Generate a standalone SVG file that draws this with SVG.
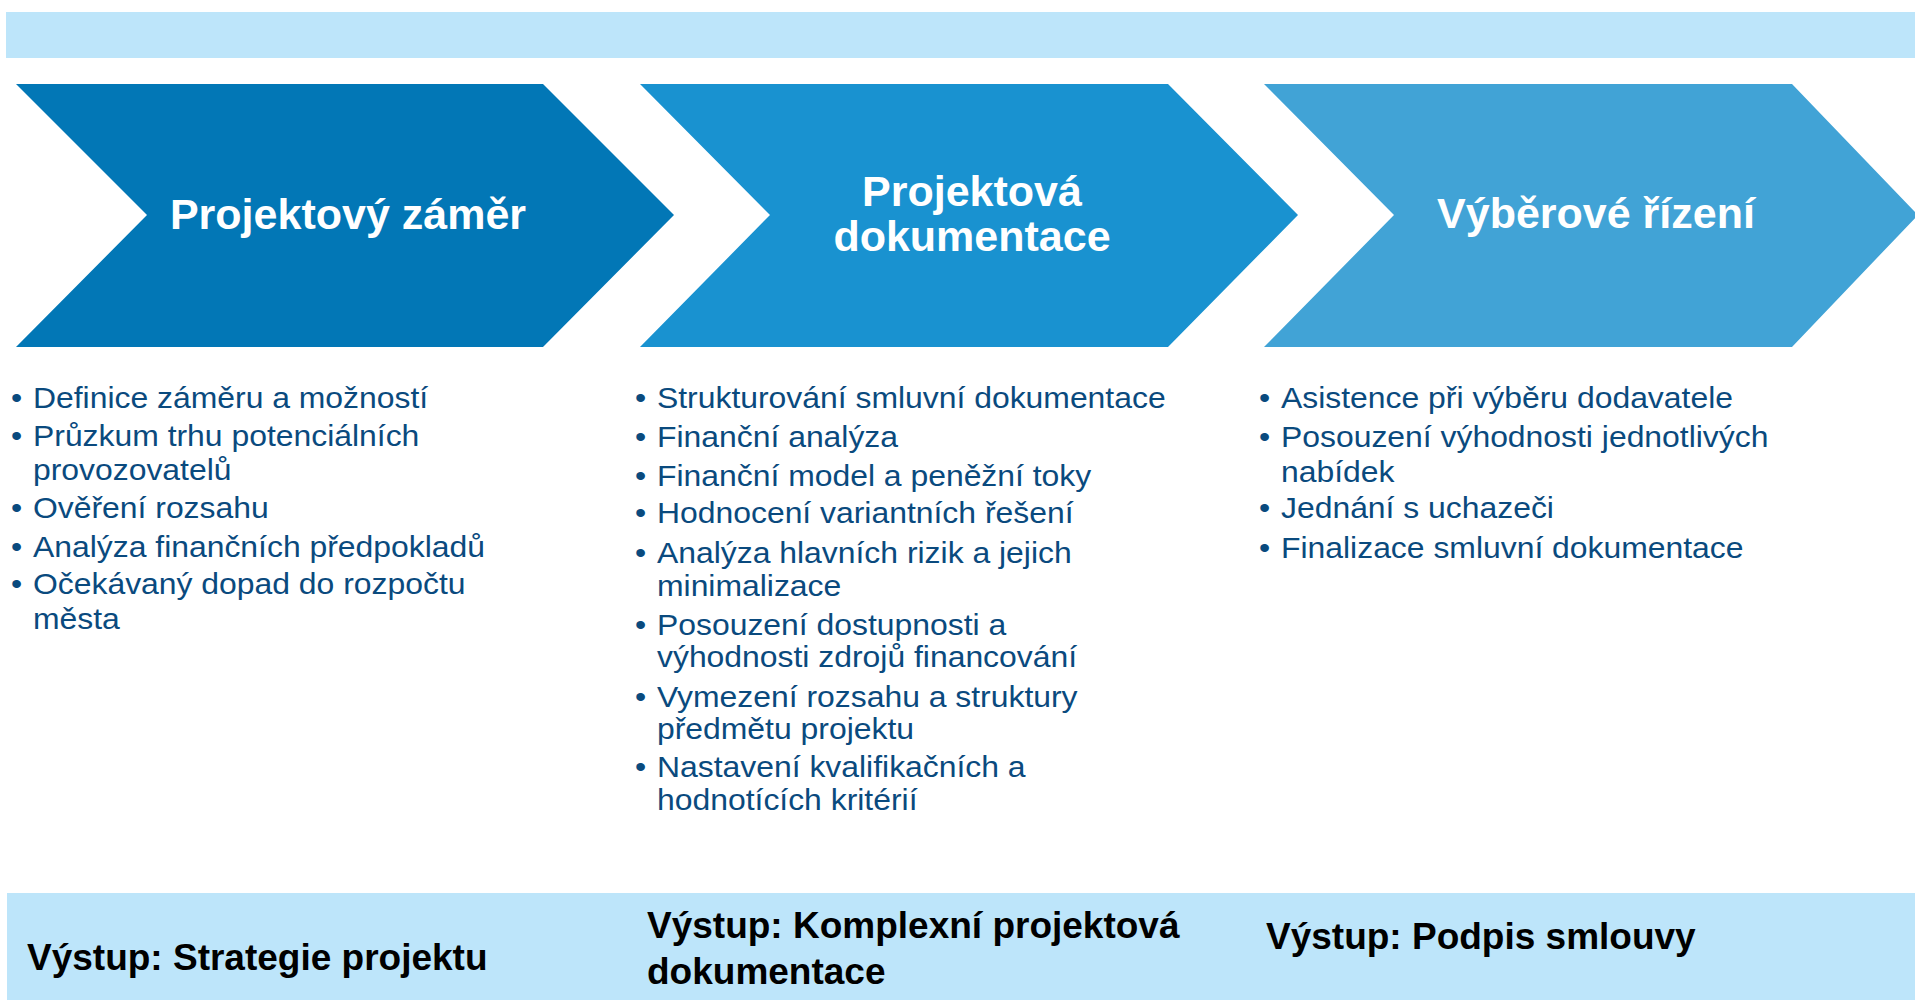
<svg xmlns="http://www.w3.org/2000/svg" width="1915" height="1000" viewBox="0 0 1915 1000">
<style>
.band{fill:#BDE5FA}
.title{font-family:"Liberation Sans",Arial,sans-serif;font-weight:bold;font-size:43px;fill:#FFFFFF;text-anchor:middle}
.item{font-family:"Liberation Sans",Arial,sans-serif;font-size:29px;fill:#0A4A7E}
.out{font-family:"Liberation Sans",Arial,sans-serif;font-weight:bold;font-size:37px;fill:#000000}
</style>
<rect width="1915" height="1000" fill="#FFFFFF"/>
<rect id="top-band" class="band" x="6" y="12" width="1909" height="46"/>

<g id="phase1">
<polygon points="16,84 543,84 674,215 543,347 16,347 147,215" fill="#0277B6"/>
<text class="title" x="348" y="229">Projektový záměr</text>
</g>
<g id="phase2">
<polygon points="640,84 1168,84 1298,215 1168,347 640,347 770,215" fill="#1992D0"/>
<text class="title" x="972" y="206">Projektová</text>
<text class="title" x="972" y="251">dokumentace</text>
</g>
<g id="phase3">
<polygon points="1264,84 1792,84 1918,215 1792,347 1264,347 1394,215" fill="#41A3D6"/>
<text class="title" x="1596" y="228">Výběrové řízení</text>
</g>

<g id="list1" transform="translate(33 0) scale(1.1 1)">
<text class="item" x="-20" y="408">•</text><text class="item" x="0" y="408">Definice záměru a možností</text>
<text class="item" x="-20" y="446">•</text><text class="item" x="0" y="446">Průzkum trhu potenciálních</text>
<text class="item" x="0" y="480">provozovatelů</text>
<text class="item" x="-20" y="518">•</text><text class="item" x="0" y="518">Ověření rozsahu</text>
<text class="item" x="-20" y="557">•</text><text class="item" x="0" y="557">Analýza finančních předpokladů</text>
<text class="item" x="-20" y="594">•</text><text class="item" x="0" y="594">Očekávaný dopad do rozpočtu</text>
<text class="item" x="0" y="629">města</text>
</g>

<g id="list2" transform="translate(657 0) scale(1.1 1)">
<text class="item" x="-20" y="408">•</text><text class="item" x="0" y="408">Strukturování smluvní dokumentace</text>
<text class="item" x="-20" y="447">•</text><text class="item" x="0" y="447">Finanční analýza</text>
<text class="item" x="-20" y="486">•</text><text class="item" x="0" y="486">Finanční model a peněžní toky</text>
<text class="item" x="-20" y="523">•</text><text class="item" x="0" y="523">Hodnocení variantních řešení</text>
<text class="item" x="-20" y="563">•</text><text class="item" x="0" y="563">Analýza hlavních rizik a jejich</text>
<text class="item" x="0" y="596">minimalizace</text>
<text class="item" x="-20" y="635">•</text><text class="item" x="0" y="635">Posouzení dostupnosti a</text>
<text class="item" x="0" y="667">výhodnosti zdrojů financování</text>
<text class="item" x="-20" y="707">•</text><text class="item" x="0" y="707">Vymezení rozsahu a struktury</text>
<text class="item" x="0" y="739">předmětu projektu</text>
<text class="item" x="-20" y="777">•</text><text class="item" x="0" y="777">Nastavení kvalifikačních a</text>
<text class="item" x="0" y="810">hodnotících kritérií</text>
</g>

<g id="list3" transform="translate(1281 0) scale(1.1 1)">
<text class="item" x="-20" y="408">•</text><text class="item" x="0" y="408">Asistence při výběru dodavatele</text>
<text class="item" x="-20" y="447">•</text><text class="item" x="0" y="447">Posouzení výhodnosti jednotlivých</text>
<text class="item" x="0" y="482">nabídek</text>
<text class="item" x="-20" y="518">•</text><text class="item" x="0" y="518">Jednání s uchazeči</text>
<text class="item" x="-20" y="558">•</text><text class="item" x="0" y="558">Finalizace smluvní dokumentace</text>
</g>

<g id="outputs">
<rect class="band" x="7" y="893" width="1908" height="107"/>
<text class="out" x="27" y="970">Výstup: Strategie projektu</text>
<text class="out" x="647" y="938">Výstup: Komplexní projektová</text>
<text class="out" x="647" y="984">dokumentace</text>
<text class="out" x="1266" y="949">Výstup: Podpis smlouvy</text>
</g>
</svg>
